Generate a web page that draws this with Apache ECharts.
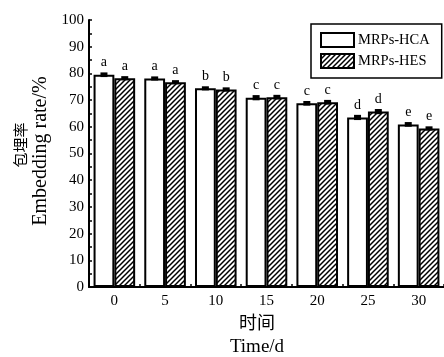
<!DOCTYPE html>
<html><head><meta charset="utf-8">
<script src="https://cdn.jsdelivr.net/npm/echarts@6/dist/echarts.min.js"></script>
<style>html,body{margin:0;padding:0;background:#fff}#c{width:444px;height:357px}</style>
</head><body><div id="c"></div>
<script>
const categories = ['0','5','10','15','20','25','30'];
const hcaValues = [79.5, 78.1, 74.4, 70.9, 68.8, 63.5, 60.9];
const hesValues = [78.2, 76.7, 74.0, 71.1, 69.2, 65.7, 59.4];
const hcaErr = [0.5, 0.4, 0.4, 0.6, 0.5, 0.6, 0.5];
const hesErr = [0.4, 0.4, 0.4, 0.5, 0.5, 0.6, 0.4];
const hcaLetters = ['a','a','b','c','c','d','e'];
const hesLetters = ['a','a','b','c','c','d','e'];
const yTicks = [0,10,20,30,40,50,60,70,80,90,100];

const FONT = '"Liberation Serif", "Noto Sans CJK SC", serif';

// hatch pattern
const pc = document.createElement('canvas');
const S = 5;
pc.width = S; pc.height = S;
const g = pc.getContext('2d');
g.fillStyle = '#fff'; g.fillRect(0,0,S,S);
g.strokeStyle = '#000'; g.lineWidth = 1.5;
g.beginPath();
g.moveTo(0,S); g.lineTo(S,0);
g.moveTo(-1,1); g.lineTo(1,-1);
g.moveTo(S-1,S+1); g.lineTo(S+1,S-1);
g.stroke();

const chart = echarts.init(document.getElementById('c'));

function errSeries(vals, errs, side) {
  return {
    type: 'custom',
    z: 5,
    silent: true,
    data: vals.map((v,i)=>[i, v, errs[i]]),
    renderItem: function(params, api) {
      const i = api.value(0), v = api.value(1), e = api.value(2);
      const band = api.size([1,0])[0];
      const off = band * 0.205 * side;
      const top = api.coord([i, v + e]);
      const bot = api.coord([i, v - e]);
      const x = top[0] + off;
      return {
        type: 'group',
        children: [
          {type:'line', shape:{x1:x, y1:top[1], x2:x, y2:bot[1]}, style:{stroke:'#000', lineWidth:1.5}},
          {type:'rect', shape:{x:x-3.5, y:top[1]-1, width:7, height:Math.max(3, bot[1]-top[1]+2)}, style:{fill:'#000'}}
        ]
      };
    }
  };
}

chart.setOption({
  animation: false,
  backgroundColor: '#fff',
  textStyle: {fontFamily: FONT, color: '#000'},
  grid: {left: 89, right: 0, top: 20, bottom: 70, containLabel: false},
  legend: {
    left: 311, top: 24,
    orient: 'vertical',
    icon: 'rect',
    itemWidth: 33, itemHeight: 14, itemGap: 5,
    padding: [8, 12, 9, 9],
    borderColor: '#000', borderWidth: 1.5,
    textStyle: {fontFamily: FONT, fontSize: 14.5, color: '#000', padding: [0,0,0,-1]},
    data: ['MRPs-HCA', 'MRPs-HES']
  },
  xAxis: {
    type: 'category',
    data: categories,
    axisLine: {lineStyle: {color: '#000', width: 2}},
    axisTick: {show: true, inside: true, length: 3, lineStyle: {color: '#000', width: 1.5}},
    axisLabel: {fontFamily: FONT, fontSize: 15, color: '#000', margin: 7}
  },
  yAxis: {
    type: 'value',
    min: 0, max: 100, interval: 10,
    axisLine: {show: true, lineStyle: {color: '#000', width: 2}},
    axisTick: {show: true, inside: true, length: 3, lineStyle: {color: '#000', width: 1.5}},
    minorTick: {show: true, splitNumber: 2, length: 3, lineStyle: {color: '#000', width: 1.5}},
    splitLine: {show: false},
    axisLabel: {fontFamily: FONT, fontSize: 15, color: '#000', margin: 5,
      formatter: v => yTicks.includes(v) ? String(v) : ''}
  },
  series: [
    {
      name: 'MRPs-HCA', type: 'bar', data: hcaValues, barWidth: '41%', barGap: '0%',
      itemStyle: {color: '#fff', borderColor: '#000', borderWidth: 2},
      label: {show: true, position: 'top', distance: 5, fontFamily: FONT, fontSize: 14, color: '#000',
        formatter: p => hcaLetters[p.dataIndex]}
    },
    {
      name: 'MRPs-HES', type: 'bar', data: hesValues, barWidth: '41%', barGap: '0%',
      itemStyle: {color: {image: pc, repeat: 'repeat'}, borderColor: '#000', borderWidth: 2},
      label: {show: true, position: 'top', distance: 5, fontFamily: FONT, fontSize: 14, color: '#000',
        formatter: p => hesLetters[p.dataIndex]}
    },
    errSeries(hcaValues, hcaErr, -1),
    errSeries(hesValues, hesErr, 1)
  ],
  graphic: [
    {type:'text', x: 20, y: 145, rotation: Math.PI/2,
      style:{text:'包埋率', font: '15px "Noto Sans CJK SC", sans-serif', fill:'#000', textAlign:'center', textVerticalAlign:'middle'}},
    {type:'text', x: 41, y: 151, rotation: Math.PI/2,
      style:{text:'Embedding rate/%', font: '20px "Liberation Serif", serif', fill:'#000', textAlign:'center', textVerticalAlign:'middle'}},
    {type:'text', x: 257, y: 322,
      style:{text:'时间', font: '18px "Noto Sans CJK SC", sans-serif', fill:'#000', textAlign:'center', textVerticalAlign:'middle'}},
    {type:'text', x: 257, y: 347,
      style:{text:'Time/d', font: '19px "Liberation Serif", serif', fill:'#000', textAlign:'center', textVerticalAlign:'middle'}}
  ]
});
</script>
</body></html>
